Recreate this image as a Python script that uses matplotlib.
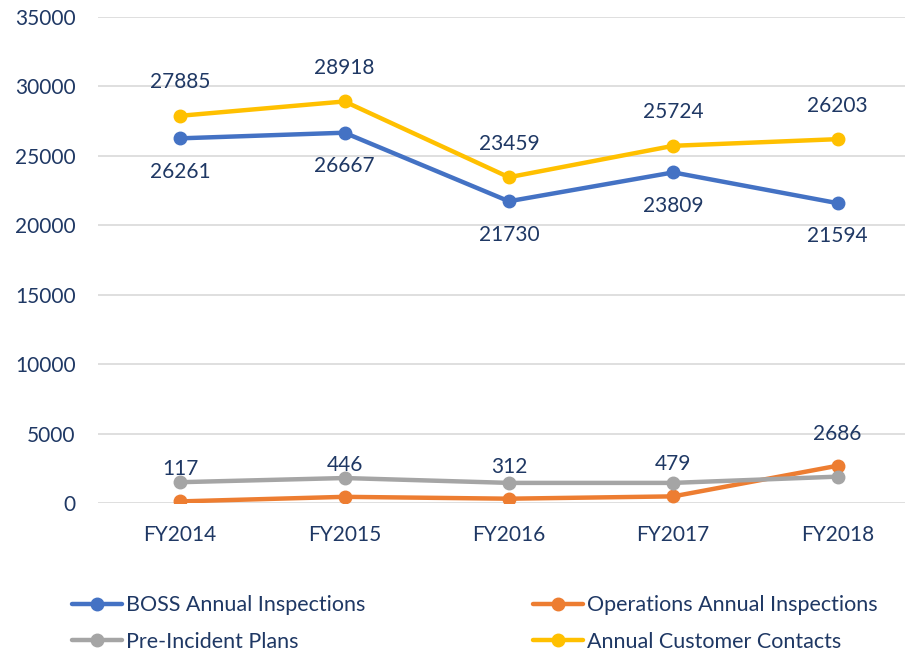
import matplotlib
matplotlib.use("Agg")
import matplotlib.pyplot as plt

# data
years = ["FY2014", "FY2015", "FY2016", "FY2017", "FY2018"]
boss = [26261, 26667, 21730, 23809, 21594]
operations = [117, 446, 312, 479, 2686]
pre_incident = [1500, 1800, 1450, 1450, 1900]
customer = [27885, 28918, 23459, 25724, 26203]

text_color = "#1F3864"
plt.rcParams["font.family"] = ["Lato", "DejaVu Sans"]

fig = plt.figure(figsize=(9.07, 6.51), dpi=100)
ax = fig.add_axes([0.108, 0.2273, 0.8898, 0.7466])

x = list(range(len(years)))
series = [
    ("BOSS Annual Inspections", boss, "#4472C4"),
    ("Operations Annual Inspections", operations, "#ED7D31"),
    ("Pre-Incident Plans", pre_incident, "#A5A5A5"),
    ("Annual Customer Contacts", customer, "#FFC000"),
]
lines = {}
for name, vals, col in series:
    ln, = ax.plot(x, vals, color=col, lw=3.2, marker="o", ms=9,
                  label=name, solid_capstyle="round", zorder=3)
    lines[name] = ln

# data labels
fs = 15
for i in x:
    ax.annotate(str(customer[i]), (i, customer[i]), xytext=(0, 24),
                textcoords="offset points", ha="center", va="center",
                fontsize=fs, color=text_color)
    ax.annotate(str(boss[i]), (i, boss[i]), xytext=(0, -24),
                textcoords="offset points", ha="center", va="center",
                fontsize=fs, color=text_color)
    ax.annotate(str(operations[i]), (i, operations[i]), xytext=(0, 23),
                textcoords="offset points", ha="center", va="center",
                fontsize=fs, color=text_color)

ax.set_xlim(-0.5, 4.41)
ax.set_ylim(0, 35000)
ax.set_yticks(range(0, 35001, 5000))
ax.set_xticks(x)
ax.set_xticklabels(years)
ax.tick_params(axis="both", length=0, labelsize=15, labelcolor=text_color)
ax.tick_params(axis="x", pad=16)
ax.tick_params(axis="y", pad=16)
ax.grid(axis="y", color="#D9D9D9", lw=1.2)
ax.set_axisbelow(True)
for s in ax.spines.values():
    s.set_visible(False)

order = ["BOSS Annual Inspections", "Operations Annual Inspections",
         "Pre-Incident Plans", "Annual Customer Contacts"]
leg_kw = dict(loc="upper left", frameon=False, fontsize=15.5,
              handlelength=2.3, handletextpad=0.2, labelspacing=0.75,
              borderpad=0, labelcolor=text_color)
fig.legend([lines[order[0]], lines[order[2]]], [order[0], order[2]],
           bbox_to_anchor=(0.068, 0.102), **leg_kw)
fig.legend([lines[order[1]], lines[order[3]]], [order[1], order[3]],
           bbox_to_anchor=(0.576, 0.102), **leg_kw)

fig.savefig("out.png", dpi=100)
